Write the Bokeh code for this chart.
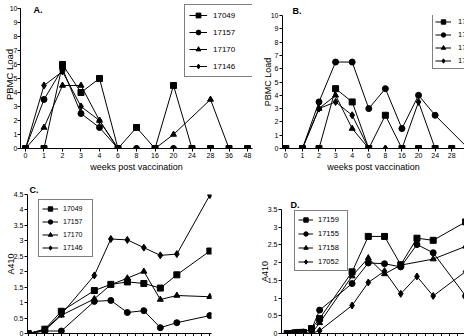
from bokeh.plotting import figure
from bokeh.layouts import column, row
from bokeh.models import Legend, LegendItem, FixedTicker, Range1d
from bokeh.core.properties import value
from bokeh.embed import file_html
from bokeh.resources import INLINE

FONT = "Liberation Sans"

# ---------------- data ----------------
week_labels = ["0", "1", "2", "3", "4", "6", "8", "16", "20", "24", "28", "36", "48"]
pbmc_ticks = [0, 1, 2, 3, 4, 5, 6, 7, 8, 9, 10]

a_names = ["17049", "17157", "17170", "17146"]
a_17049 = [0, 0, 6, 4, 5, 0, 1.5, 0, 4.5, 0, 0, 0, 0]
a_17157 = [0, 3.5, 5.7, 2.5, 1.5, 0, 0, 0, 0, 0, 0, 0, 0]
a_17170 = [0, 1.5, 4.5, 4.5, 2, 0, 0, 0, 1, None, 3.5, 0, 0]
a_17146 = [0, 4.5, 5.5, 3, 2, 0, 0, 0, 0, 0, 0, 0, 0]

b_names = ["17159", "17155", "17158", "17052"]
b_17159 = [0, 0, 0, 4.5, 3.5, 0, 2.5, 0, 0, 0, 0, 0, 0]
b_17155 = [0, 0, 3.5, 6.5, 6.5, 3, 4.5, 1.5, 4, 2.5, None, 0, 0]
b_17158 = [0, 0, 3, 4, 1.5, 0, 0, 0, 0, 0, 0, 0, 0]
b_17052 = [0, 0, 3, 3.5, 2.5, 0, 0, 0, 3.5, 0, 0, 0, 0]

c_weeks = [0, 1, 2, 4, 5, 6, 7, 8, 9, 11]
c_17049 = [0, 0.14, 0.72, 1.39, 1.59, 1.67, 1.62, 1.47, 1.9, 2.67]
c_17157 = [0, 0.08, 0.08, 1.04, 1.07, 0.68, 0.74, 0.19, 0.35, 0.58]
c_17170 = [0, 0.1, 0.59, 1.12, 1.58, 1.79, 2.01, 1.1, 1.23, 1.19]
c_17146 = [0, 0.12, 0.62, 1.88, 3.06, 3.03, 2.78, 2.53, 2.57, 4.48]
c_y_ticks = [0, 0.5, 1, 1.5, 2, 2.5, 3, 3.5, 4, 4.5]

d_weeks = [0, 0.25, 0.5, 0.75, 1, 1.5, 2, 4, 5, 6, 7, 8, 9, 11]
d_17159 = [0, 0, 0.02, 0.03, 0.03, 0.14, 0.42, 1.74, 2.74, 2.74, 1.94, 2.69, 2.63, 3.15]
d_17155 = [0, 0.01, 0.02, 0.03, 0.04, 0.12, 0.66, 1.41, 1.99, 1.97, 1.88, 2.51, 2.28, 1.06]
d_17158 = [0, 0, 0.01, 0.02, 0.03, 0, 0.3, 1.62, 2.13, 1.68, 1.93, None, 2.1, 2.46]
d_17052 = [0, 0, 0, 0.01, 0.02, 0, 0.08, 0.79, 1.44, 1.76, 1.12, 1.61, 1.06, 1.75]
d_y_ticks = [0, 0.5, 1, 1.5, 2, 2.5, 3, 3.5]

x_small_ticks = [0, 0.5, 1, 1.5, 2, 2.5, 3, 3.5, 4, 4.5, 5, 5.5, 6, 6.5, 7, 7.5,
                 8, 8.5, 9, 9.5, 10, 10.5, 11]

markers = ["square", "circle", "triangle", "diamond"]
sizes = [6, 6, 6, 7]


def base_fig(w, h, bl, br, bt, bb, xr, yr):
    p = figure(width=w, height=h, x_range=Range1d(*xr), y_range=Range1d(*yr),
               output_backend="svg", toolbar_location=None,
               min_border_left=bl, min_border_right=br,
               min_border_top=bt, min_border_bottom=bb)
    p.grid.visible = False
    p.outline_line_color = None
    p.background_fill_color = "white"
    p.border_fill_color = "white"
    for ax in (p.xaxis[0], p.yaxis[0]):
        ax.axis_line_color = "black"
        ax.axis_line_width = 1
        ax.major_tick_line_color = "black"
        ax.major_tick_in = 0
        ax.major_tick_out = 3
        ax.minor_tick_line_color = None
        ax.major_label_text_font = FONT
        ax.major_label_text_font_size = "7px"
        ax.major_label_text_color = "black"
        ax.major_label_standoff = 1
        ax.axis_label_text_font = FONT
        ax.axis_label_text_font_style = "normal"
        ax.axis_label_text_color = "black"
        ax.axis_label_text_font_size = "9px"
        ax.axis_label_standoff = 1
    return p


def set_panel_title(p, text, offset, standoff):
    p.title.text = text
    p.title.align = "left"
    p.title.offset = offset
    p.title.standoff = standoff
    p.title.text_font = FONT
    p.title.text_font_size = "9px"
    p.title.text_font_style = "bold"
    p.title.text_color = "black"


def add_series(p, xs, ys, marker, size):
    pts = [(x, y) for x, y in zip(xs, ys) if y is not None]
    px = [a for a, _ in pts]
    py = [b for _, b in pts]
    l = p.line(px, py, line_color="black", line_width=1)
    s = p.scatter(px, py, marker=marker, size=size, fill_color="black", line_color="black")
    return [l, s]


def add_legend(p, names, rends, loc, pad, gh, gw, sp, standoff, lw, fs):
    items = [LegendItem(label=n, renderers=r) for n, r in zip(names, rends)]
    leg = Legend(items=items, location=loc, padding=pad, spacing=sp,
                 glyph_height=gh, glyph_width=gw, label_height=gh, label_width=lw,
                 label_standoff=standoff, margin=0,
                 label_text_font=FONT, label_text_font_size=fs, label_text_color="black",
                 border_line_color="black", border_line_width=1,
                 background_fill_color="white", background_fill_alpha=1)
    p.add_layout(leg)


def fmt_overrides(ticks):
    return {t: ("%g" % t) for t in ticks}


def no_label_ticks(p, ticks):
    # small unlabeled ticks along the bottom axis (labels are outside the picture)
    p.xaxis.ticker = FixedTicker(ticks=[], minor_ticks=ticks)
    p.xaxis.minor_tick_line_color = "black"
    p.xaxis.minor_tick_in = 0
    p.xaxis.minor_tick_out = 3
    p.xaxis.major_label_standoff = 0


idx = list(range(len(week_labels)))

# ---------------- panel A ----------------
# frame reaches the top of the panel; the axis itself stops at 10
pA = base_fig(256, 174, 20, 4, 0, 25, (-0.27, 12.27), (0, 10.567))
pA.xaxis.ticker = FixedTicker(ticks=idx)
pA.xaxis.major_label_overrides = {i: s for i, s in zip(idx, week_labels)}
pA.yaxis.ticker = FixedTicker(ticks=pbmc_ticks)
pA.yaxis.bounds = (0, 10)
pA.xaxis.axis_label = "weeks post vaccination"
pA.yaxis.axis_label = "PBMC Load"
pA.yaxis.major_label_standoff = 0
pA.yaxis.axis_label_standoff = -8
pA.yaxis.axis_label_text_font_size = "9.5px"
rA = [add_series(pA, idx, ys, m, s) for ys, m, s in
      zip([a_17049, a_17157, a_17170, a_17146], markers, sizes)]
add_legend(pA, a_names, rA, (164, 71), 4, 12, 18, 5, 6, 36, "8px")
pA.text(x=[0.43], y=[9.86], text=["A."], text_font=value(FONT), text_font_size="9px",
        text_font_style="bold", text_color="black", text_baseline="alphabetic",
        text_align="left")

# ---------------- panel B ----------------
pB = base_fig(208, 174, 26, 0, 15, 25, (-0.2, 10.77), (0, 10))
pB.xaxis.ticker = FixedTicker(ticks=idx)
pB.xaxis.major_label_overrides = {i: s for i, s in zip(idx, week_labels)}
pB.yaxis.ticker = FixedTicker(ticks=pbmc_ticks)
pB.xaxis.axis_label = "weeks post vaccination"
pB.yaxis.axis_label = "PBMC Load"
pB.yaxis.axis_label_standoff = -5
rB = [add_series(pB, idx, ys, m, s) for ys, m, s in
      zip([b_17159, b_17155, b_17158, b_17052], markers, sizes)]
add_legend(pB, b_names, rB, (150, 79), 2, 11, 16, 2, 7, 30, "7.5px")
set_panel_title(pB, "B.", 10, 0)

# ---------------- panel C ----------------
pC = base_fig(256, 162, 27, 45, 20, 3, (-0.05, 11.1), (0, 4.5))
no_label_ticks(pC, x_small_ticks)
pC.yaxis.ticker = FixedTicker(ticks=c_y_ticks)
pC.yaxis.major_label_overrides = fmt_overrides(c_y_ticks)
pC.yaxis.axis_label = "A410"
pC.yaxis.axis_label_standoff = -5
rC = [add_series(pC, c_weeks, ys, m, s) for ys, m, s in
      zip([c_17049, c_17157, c_17170, c_17146], markers, sizes)]
add_legend(pC, a_names, rC, (11, 76), 3, 11, 16, 2, 5, 26, "7px")
set_panel_title(pC, "C.", 2, 0)

# ---------------- panel D ----------------
pD = base_fig(208, 162, 25, 0, 35, 3, (-0.35, 10.93), (0, 3.5))
no_label_ticks(pD, x_small_ticks)
pD.yaxis.ticker = FixedTicker(ticks=d_y_ticks)
pD.yaxis.major_label_overrides = fmt_overrides(d_y_ticks)
pD.yaxis.axis_label = "A410"
pD.yaxis.axis_label_standoff = -5
rD = [add_series(pD, d_weeks, ys, m, s) for ys, m, s in
      zip([d_17159, d_17155, d_17158, d_17052], markers, sizes)]
add_legend(pD, b_names, rD, (13, 62), 3, 11, 15, 3, 5, 26, "7.5px")
set_panel_title(pD, "D.", 9, 0)

# each figure in its own box so that their frames are laid out independently
layout = column(row(column(pA), column(pB)), row(column(pC), column(pD)))

open("out.html", "w").write(file_html(layout, INLINE))
